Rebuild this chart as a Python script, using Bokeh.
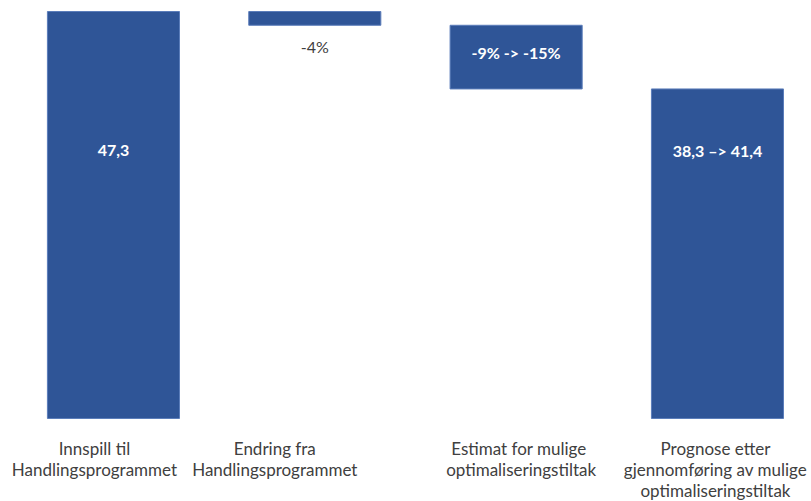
from bokeh.plotting import figure
from bokeh.models import Range1d, ColumnDataSource
from bokeh.core.properties import value
from bokeh.embed import file_html
from bokeh.resources import INLINE

# Data
categories = ["Innspill til\nHandlingsprogrammet",
              "Endring fra\nHandlingsprogrammet",
              "Estimat  for mulige\noptimaliseringstiltak",
              "Prognose etter\ngjennomføring av mulige\noptimaliseringstiltak"]
start_total = 47.3
changes = [-1.6, -7.4]
final_total = 38.3
bar_labels = ["47,3", "-4%", "-9% -> -15%", "38,3 \u2013> 41,4"]

# Waterfall geometry derived from data
bottoms = [0.0]
tops = [start_total]
level = start_total
for c in changes:
    new = level + c
    bottoms.append(new)
    tops.append(level)
    level = new
bottoms.append(0.0)
tops.append(final_total)
xs = list(range(len(categories)))

BLUE = "#2F5597"
GREY = "#404040"
FONT = "Lato"

p = figure(width=811, height=501, output_backend="svg", toolbar_location=None,
           x_range=Range1d(-0.561, 3.467), y_range=Range1d(-9.65, 48.58),
           min_border=0, min_border_left=0, min_border_right=0,
           min_border_top=0, min_border_bottom=0)
p.axis.visible = False
p.grid.visible = False
p.outline_line_color = None
p.background_fill_color = "white"
p.border_fill_color = "white"

src = ColumnDataSource(dict(x=xs, bottom=bottoms, top=tops))
p.vbar(x="x", bottom="bottom", top="top", width=0.656, source=src,
       fill_color=BLUE, line_color="#5B7DBA", line_width=1)

# value labels
p.text(x=[xs[0], xs[3]], y=[31.1, 31.1], text=[bar_labels[0], bar_labels[3]],
       text_color="white", text_font=value(FONT), text_font_style="bold",
       text_font_size="16px", text_align="center", text_baseline="middle")
p.text(x=[xs[2]], y=[(bottoms[2] + tops[2]) / 2], y_offset=-5, text=[bar_labels[2]],
       text_color="white", text_font=value(FONT), text_font_style="bold",
       text_font_size="16px", text_align="center", text_baseline="middle")
p.text(x=[xs[1]], y=[bottoms[1]], y_offset=21, text=[bar_labels[1]],
       text_color=GREY, text_font=value(FONT),
       text_font_size="16px", text_align="center", text_baseline="middle")

# category labels
label_offsets = [-19, -40, 5, -2]
for i, lab in enumerate(categories):
    p.text(x=[xs[i]], y=[0], x_offset=label_offsets[i], y_offset=20, text=[lab],
           text_color=GREY, text_font=value(FONT), text_font_size="17px",
           text_align="center", text_baseline="top", text_line_height=1.0)

open("out.html", "w").write(file_html(p, INLINE))
